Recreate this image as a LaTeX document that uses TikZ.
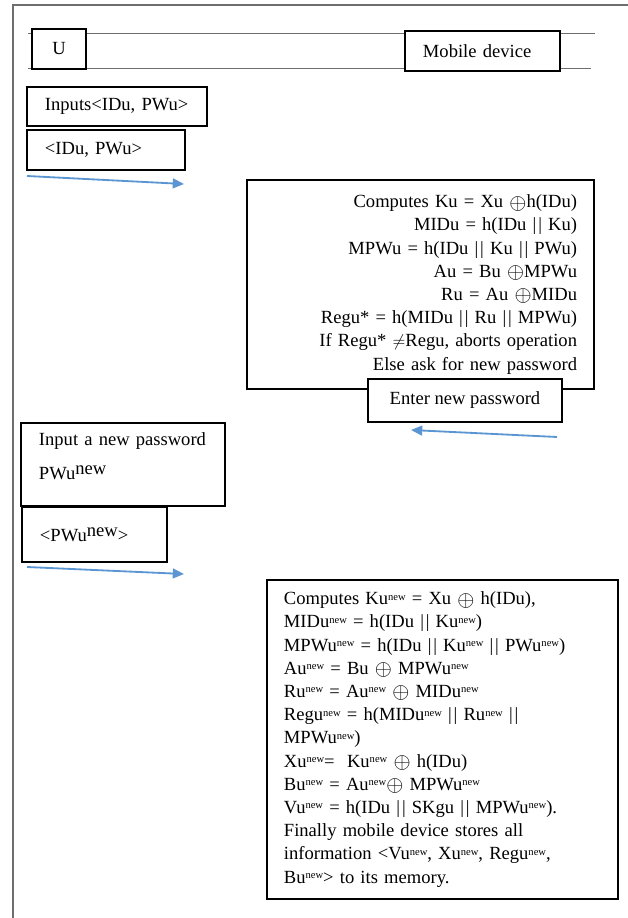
\documentclass[tikz,border=0pt]{standalone}
\usepackage{fontspec}
\setmainfont{Liberation Serif}
\usepackage{tikz}
\usetikzlibrary{arrows.meta,positioning}
\definecolor{FrameGray}{RGB}{110,110,110}
\definecolor{ArrowBlue}{RGB}{91,150,210}
\newcommand{\supnew}{\raisebox{.55ex}{\fontsize{7.5}{8}\selectfont new}}
\newcommand{\bignew}{\raisebox{.6ex}{new}}
\newcommand{\xorop}{\raisebox{-.15ex}{\scalebox{1.3}{$\oplus$}}}
\newcommand{\cat}{|\kern1.3pt|}
\tikzset{
  plainbox/.style={draw=black,line width=0.9pt,fill=white,inner sep=0pt,
    align=center,font=\fontsize{13.2}{16}\selectfont},
  leftbox/.style={plainbox,align=left,inner xsep=0.45cm},
  calcbox/.style={draw=black,line width=0.9pt,fill=white,inner xsep=0.425cm,
    inner ysep=0pt,font=\fontsize{13.2}{16.5}\selectfont},
  lifeline/.style={draw=FrameGray,line width=0.7pt},
  msgarrow/.style={-{Triangle[length=8pt,width=7pt]},line width=1.3pt,ArrowBlue}
}
\begin{document}
\begin{tikzpicture}[x=0.025cm,y=-0.025cm]
  \useasboundingbox (0,0) rectangle (628,918);
  % page frame
  \draw[FrameGray,line width=1.2pt] (628,5) -- (13,5) -- (13,918);
  % lifelines
  \coordinate (lt1) at (28,33);
  \coordinate (lt2) at (595,33);
  \coordinate (lb1) at (28,68);
  \coordinate (lb2) at (591,68);
  \draw[lifeline] (lt1) -- (lt2);
  \draw[lifeline] (lb1) -- (lb2);
  % parties
  \node[plainbox,minimum width=1.35cm,minimum height=1cm] (user) at (59,49) {U};
  \node[leftbox,text width=2.975cm,minimum height=1cm] (device) at (482.5,51) {Mobile device};
  % login request
  \node[leftbox,text width=3.6cm,minimum height=0.975cm] (inputs) at (117,106.5) {Inputs<IDu, PWu>};
  \node[leftbox,text width=3.05cm,minimum height=1cm] (msgone) at (106,150) {<IDu, PWu>};
  \coordinate (a1s) at (27,176);
  \coordinate (a1e) at (184,184);
  \draw[msgarrow] (a1s) -- (a1e);
  % device checks
  \node[calcbox,text width=7.825cm,align=right,minimum height=5.225cm] (check) at (420.5,284.5) {%
    Computes Ku = Xu \xorop h(IDu)\\
    MIDu = h(IDu \cat{} Ku)\\
    MPWu = h(IDu \cat{} Ku \cat{} PWu)\\
    Au = Bu \xorop MPWu\\
    Ru = Au \xorop MIDu\\
    Regu* = h(MIDu \cat{} Ru \cat{} MPWu)\\
    If Regu* $\neq$Regu, aborts operation\\
    Else ask for new password};
  \node[plainbox,minimum width=4.85cm,minimum height=1.075cm] (enter) at (465,400.5) {Enter new password};
  \coordinate (a2s) at (557,437);
  \coordinate (a2e) at (411,430);
  \draw[msgarrow] (a2s) -- (a2e);
  % new password
  \node[leftbox,text width=4.2cm,minimum height=2.075cm] (newpw) at (123,464.5) {%
    Input a new password\\[8pt]
    PWu\bignew\\[-4pt]\mbox{}};
  \node[leftbox,text width=2.725cm,minimum height=1.375cm] (msgtwo) at (94.5,534.5) {<PWu\bignew>};
  \coordinate (a3s) at (27,567);
  \coordinate (a3e) at (184,574);
  \draw[msgarrow] (a3s) -- (a3e);
  % device update
  \node[calcbox,text width=7.925cm,align=left,minimum height=7.975cm] (update) at (442.5,739.5) {%
    Computes Ku\supnew{} = Xu \xorop{} h(IDu),\\
    MIDu\supnew{} = h(IDu \cat{} Ku\supnew)\\
    MPWu\supnew{} = h(IDu \cat{} Ku\supnew{} \cat{} PWu\supnew)\\
    Au\supnew{} = Bu \xorop{} MPWu\supnew\\
    Ru\supnew{} = Au\supnew{} \xorop{} MIDu\supnew\\
    Regu\supnew{} = h(MIDu\supnew{} \cat{} Ru\supnew{} \cat\\
    MPWu\supnew)\\
    Xu\supnew=\ \ Ku\supnew{} \xorop{} h(IDu)\\
    Bu\supnew{} = Au\supnew\xorop{} MPWu\supnew\\
    Vu\supnew{} = h(IDu \cat{} SKgu \cat{} MPWu\supnew).\\
    Finally mobile device stores all\\
    information <Vu\supnew, Xu\supnew, Regu\supnew,\\
    Bu\supnew> to its memory.};
\end{tikzpicture}
\end{document}
